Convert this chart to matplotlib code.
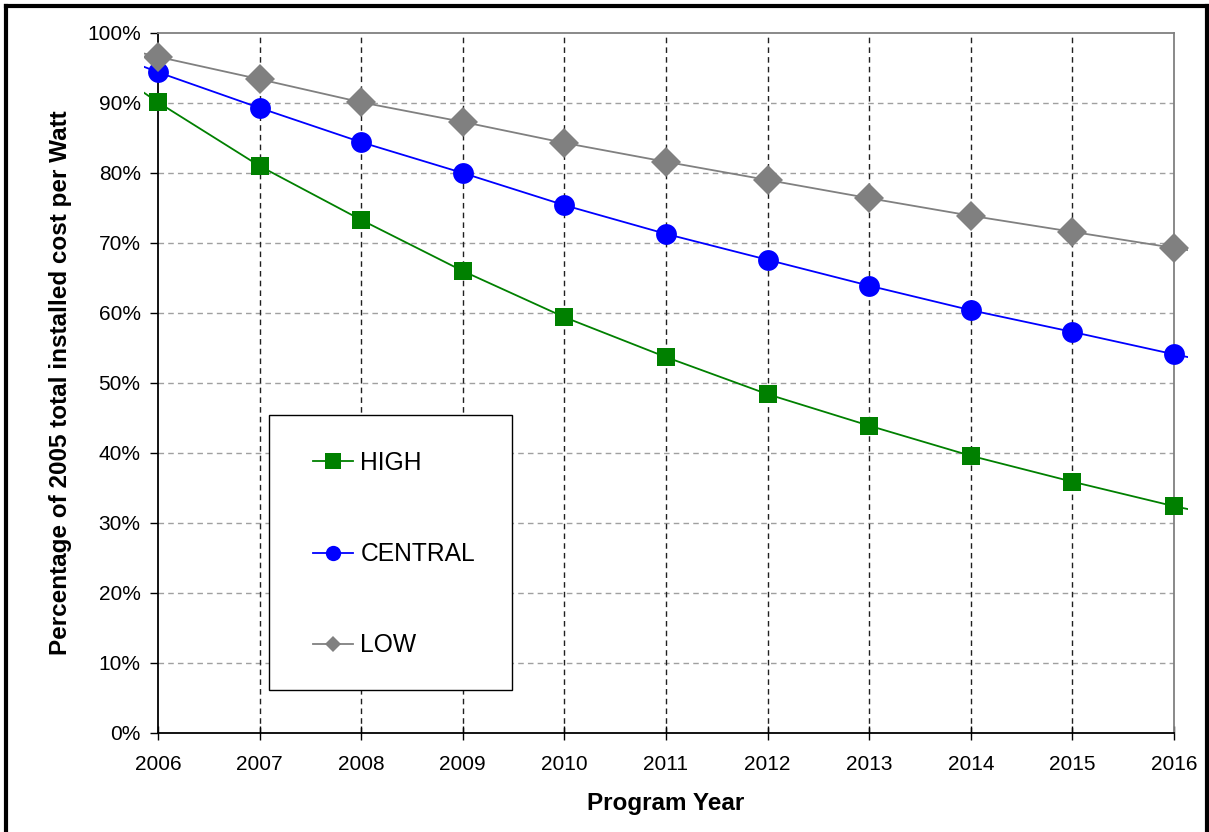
import matplotlib.pyplot as plt
from matplotlib.patches import Rectangle
from matplotlib.lines import Line2D
from matplotlib.ticker import PercentFormatter

plt.rcParams['font.family'] = ['Liberation Sans', 'DejaVu Sans']

# 2005 and 2017 only give the short line stubs beyond the plot edges
years = [2005, 2006, 2007, 2008, 2009, 2010, 2011, 2012, 2013, 2014, 2015, 2016, 2017]
high = [100.0, 90.1, 81.0, 73.3, 66.0, 59.4, 53.7, 48.4, 43.9, 39.6, 35.9, 32.4, 29.4]
central = [100.0, 94.4, 89.3, 84.4, 80.0, 75.4, 71.3, 67.6, 63.9, 60.4, 57.3, 54.1, 51.2]
low = [100.0, 96.6, 93.4, 90.1, 87.3, 84.3, 81.6, 79.0, 76.4, 73.9, 71.6, 69.3, 67.0]
xticks = list(range(2006, 2017))

series = [
    ('HIGH', high, '#008000', 's', 12.5, 11.5),
    ('CENTRAL', central, '#0000FF', 'o', 15.0, 11.0),
    ('LOW', low, '#808080', 'D', 15.0, 8.5),
]

fig = plt.figure(figsize=(12.09, 8.32), dpi=100)
ax = fig.add_axes([158 / 1209, 1 - 733 / 832, (1174 - 158) / 1209, 700 / 832])

ax.set_xlim(2006, 2016)
ax.set_ylim(0, 100)

# gridlines
for y in range(10, 100, 10):
    ax.axhline(y, color='#a0a0a0', linestyle=(0, (4, 3)), linewidth=1.0, zorder=0)
for x in xticks[1:-1]:
    ax.axvline(x, color='#202020', linestyle=(0, (4, 3)), linewidth=1.0, zorder=0)

clip = Rectangle((-0.014, 0), 1.028, 1, transform=ax.transAxes, fill=False)
handles = []
for name, vals, col, mk, ms, lms in series:
    ln, = ax.plot(years, vals, color=col, linewidth=1.3, marker=mk, markersize=ms,
                  markevery=list(range(1, 12)), markeredgewidth=0, zorder=3)
    ln.set_clip_path(clip)
    handles.append(Line2D([], [], color=col, linewidth=1.3, marker=mk, markersize=lms,
                          markeredgewidth=0, label=name))

for side in ['left', 'bottom']:
    ax.spines[side].set_color('black')
    ax.spines[side].set_linewidth(1.3)
for side in ['top', 'right']:
    ax.spines[side].set_color('#808080')
    ax.spines[side].set_linewidth(1.3)

ax.set_xticks(xticks)
ax.set_yticks(range(0, 101, 10))
ax.yaxis.set_major_formatter(PercentFormatter(decimals=0))
ax.tick_params(axis='both', width=1.0, labelsize=15, colors='black')
ax.tick_params(axis='x', direction='inout', length=10, pad=10.5)
ax.tick_params(axis='y', direction='out', length=6, pad=6.5)

ax.set_xlabel('Program Year', fontsize=17.5, fontweight='bold', labelpad=13)
ax.set_ylabel('Percentage of 2005 total installed cost per Watt', fontsize=17.5,
              fontweight='bold', labelpad=11)

# legend box drawn separately so the entries can sit where they do in the original
box = Rectangle(((269 - 158) / 1016, (733 - 690) / 700), 243 / 1016, 275 / 700,
                transform=ax.transAxes, facecolor='white', edgecolor='black', linewidth=1.0,
                zorder=4)
ax.add_patch(box)
leg = ax.legend(handles=handles, loc='upper left', bbox_to_anchor=((313 - 158) / 1016, (733 - 451) / 700),
                fontsize=17.7, frameon=False, borderpad=0, labelspacing=2.73,
                handlelength=1.63, handletextpad=0.3, borderaxespad=0)
leg.set_zorder(5)

# outer black frame (left, top, right)
lw = 3.0
fig.add_artist(Line2D([5.5 / 1209] * 2, [0, 1 - 5.5 / 832], color='black', linewidth=lw,
                      transform=fig.transFigure))
fig.add_artist(Line2D([5.5 / 1209, 1 - 2 / 1209], [1 - 5.5 / 832] * 2, color='black', linewidth=lw,
                      transform=fig.transFigure))
fig.add_artist(Line2D([1 - 2 / 1209] * 2, [0, 1 - 5.5 / 832], color='black', linewidth=lw,
                      transform=fig.transFigure))

fig.savefig('out.png', dpi=100)
